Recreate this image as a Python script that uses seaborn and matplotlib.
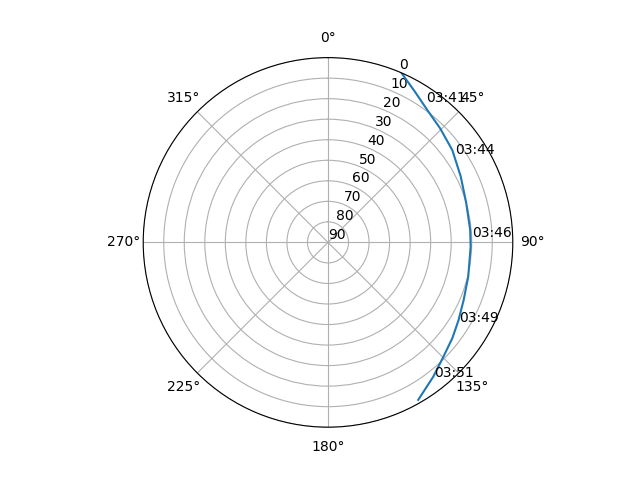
import numpy as np
import seaborn as sns
import matplotlib
matplotlib.use('Agg')
import matplotlib.pyplot as plt

# satellite pass track (azimuth deg, elevation deg)
az = [23.5, 30.0, 37.5, 44.5, 53.4, 63.5, 74.1, 85.0, 91.7, 103.7, 113.1, 120.8, 127.5, 134.7, 141.9, 150.2]
el = [0.1, 5.3, 9.7, 12.1, 14.6, 17.8, 20.0, 20.5, 20.5, 19.7, 18.2, 16.0, 13.6, 10.9, 6.9, 1.6]

# time stamps written along the track
label_time = ["03:41", "03:44", "03:46", "03:49", "03:51"]
label_az = [34.9, 55.3, 88.0, 121.1, 141.8]
label_el = [6.6, 14.4, 19.7, 15.3, 6.3]

fig, ax = plt.subplots(figsize=(6.4, 4.8), dpi=100, subplot_kw={'projection': 'polar'})
ax.set_theta_zero_location('N')
ax.set_theta_direction(-1)

sns.lineplot(x=np.radians(az), y=el, ax=ax, sort=False, estimator=None, color='tab:blue')

for t, a, e in zip(label_time, label_az, label_el):
    ax.text(np.radians(a), e, t)

ax.set_ylim(90, 0)
ax.set_yticks(range(0, 91, 10))
ax.set_xlabel('')
ax.set_ylabel('')

plt.savefig('out.png')
